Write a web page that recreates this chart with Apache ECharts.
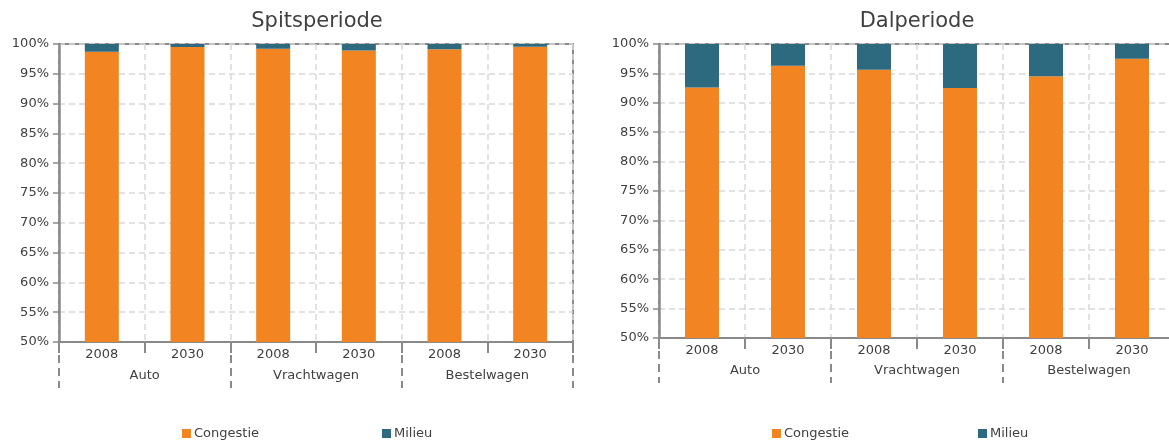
<!DOCTYPE html>
<html>
<head>
<meta charset="utf-8">
<script src="https://cdn.jsdelivr.net/npm/echarts@6/dist/echarts.min.js"></script>
<style>
  html, body { margin: 0; padding: 0; background: #fff; }
  #chart { width: 1169px; height: 443px; }
</style>
</head>
<body>
<div id="chart"></div>
<script>
// ── data ──
const years = ['2008', '2030', '2008', '2030', '2008', '2030']
const groups = ['Auto', 'Vrachtwagen', 'Bestelwagen']
const spitsCongestie = [98.7, 99.5, 99.2, 98.9, 99.1, 99.55]
const spitsMilieu = [1.3, 0.5, 0.8, 1.1, 0.9, 0.45]
const dalCongestie = [92.6, 96.3, 95.6, 92.5, 94.5, 97.5]
const dalMilieu = [7.4, 3.7, 4.4, 7.5, 5.5, 2.5]

const ORANGE = '#F28422'
const TEAL = '#2D6A7F'
const AXIS = '#8A8A8A'
const TEXT = '#404040'
const FONT = 'DejaVu Sans'

function yearAxis(gridIndex) {
  return {
    type: 'category', gridIndex, position: 'bottom', data: years,
    axisLine: { show: true, lineStyle: { color: AXIS, width: 2 } },
    axisTick: { show: true, interval: 0, length: 11, lineStyle: { color: AXIS, width: 2 } },
    axisLabel: { color: TEXT, fontFamily: FONT, fontSize: 13, margin: 6, interval: 0 },
    splitLine: { show: true, interval: 0, lineStyle: { color: '#D9D9D9', type: [6, 4], width: 1.5 } },
  }
}

function groupAxis(gridIndex, tickLen, margin) {
  return {
    type: 'category', gridIndex, position: 'bottom', data: groups,
    axisLine: { show: false },
    axisTick: { show: true, interval: 0, length: tickLen, lineStyle: { color: AXIS, width: 2, type: [8, 5] } },
    axisLabel: { color: TEXT, fontFamily: FONT, fontSize: 13, margin, interval: 0 },
    splitLine: { show: false },
  }
}

function pctAxis(gridIndex) {
  return {
    type: 'value', gridIndex, min: 50, max: 100, interval: 5,
    axisLine: { show: true, lineStyle: { color: AXIS, width: 2.5 } },
    axisTick: { show: true, length: 6, lineStyle: { color: AXIS, width: 1.5 } },
    axisLabel: { color: TEXT, fontFamily: FONT, fontSize: 13, margin: 10, formatter: '{value}%' },
    splitLine: { lineStyle: { color: '#D9D9D9', type: [6, 4], width: 1.5 } },
  }
}

function bars(name, data, color, xi, yi) {
  return {
    name, type: 'bar', stack: 'tot' + xi, data, barWidth: 34,
    xAxisIndex: xi, yAxisIndex: yi,
    itemStyle: { color }, emphasis: { disabled: true },
  }
}

function legendItem(name, left) {
  return {
    data: [name], left, top: 422, icon: 'rect', itemWidth: 9, itemHeight: 9, itemGap: 4,
    textStyle: { color: TEXT, fontFamily: FONT, fontSize: 13, padding: [0, 0, 0, -2] },
    selectedMode: false,
  }
}

const chart = echarts.init(document.getElementById('chart'))
chart.setOption({
  animation: false,
  title: [
    { text: 'Spitsperiode', left: 312, textAlign: 'center', top: 6,
      textStyle: { fontFamily: FONT, fontSize: 21, fontWeight: 'normal', color: TEXT } },
    { text: 'Dalperiode', left: 912, textAlign: 'center', top: 6,
      textStyle: { fontFamily: FONT, fontSize: 21, fontWeight: 'normal', color: TEXT } },
  ],
  legend: [
    legendItem('Congestie', 177),
    legendItem('Milieu', 377),
    legendItem('Congestie', 767),
    legendItem('Milieu', 973),
  ],
  grid: [
    { left: 59, top: 44, width: 514, height: 298, show: true, borderColor: AXIS, borderWidth: 2,
      outerBoundsMode: 'none' },
    { left: 659, top: 44, width: 516, height: 294, show: true, borderColor: AXIS, borderWidth: 2,
      outerBoundsMode: 'none' },
  ],
  xAxis: [yearAxis(0), groupAxis(0, 46, 27), yearAxis(1), groupAxis(1, 45, 26)],
  yAxis: [pctAxis(0), pctAxis(1)],
  series: [
    bars('Congestie', spitsCongestie, ORANGE, 0, 0),
    bars('Milieu', spitsMilieu, TEAL, 0, 0),
    bars('Congestie', dalCongestie, ORANGE, 2, 1),
    bars('Milieu', dalMilieu, TEAL, 2, 1),
  ],
})
</script>
</body>
</html>
